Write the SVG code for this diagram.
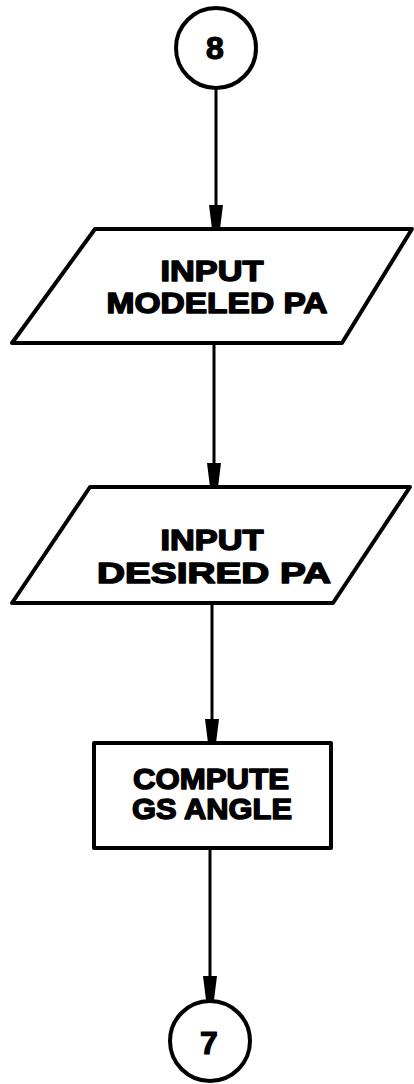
<svg xmlns="http://www.w3.org/2000/svg" width="414" height="1084" viewBox="0 0 414 1084">
<defs>
<style>
.sh{fill:#fff;stroke:#000;stroke-width:4;stroke-linejoin:round}
.ln{fill:none;stroke:#000;stroke-width:3}
.t{font-family:"Liberation Sans",Arial,sans-serif;font-weight:bold;font-size:30px;fill:#000;stroke:#000;stroke-width:1.5;stroke-linejoin:round;text-anchor:middle}
.c{font-family:"Liberation Sans",Arial,sans-serif;font-weight:bold;font-size:32px;fill:#000;stroke:#000;stroke-width:1.2;stroke-linejoin:round;text-anchor:middle}
</style>
<marker id="ah" markerUnits="userSpaceOnUse" markerWidth="26" markerHeight="16" refX="24" refY="8" orient="auto" viewBox="0 0 26 16">
<polygon points="0,1 0,15 24,12 24,4" fill="#000"/>
</marker>
</defs>
<rect width="414" height="1084" fill="#fff"/>
<g id="connectors">
<line class="ln" x1="216" y1="89" x2="216" y2="229" marker-end="url(#ah)"/>
<line class="ln" x1="214" y1="343" x2="214" y2="487" marker-end="url(#ah)"/>
<line class="ln" x1="212" y1="603" x2="212" y2="743" marker-end="url(#ah)"/>
<line class="ln" x1="210" y1="848" x2="210" y2="1000" marker-end="url(#ah)"/>
</g>
<g id="connector8">
<circle class="sh" cx="216" cy="48" r="40" stroke-width="5"/>
<text class="c" x="215" y="59">8</text>
</g>
<g id="input-modeled">
<polygon class="sh" points="95,229 412,229 342,343 12,343"/>
<text class="t" x="212" y="281" textLength="103" lengthAdjust="spacingAndGlyphs">INPUT</text>
<text class="t" x="217" y="313" textLength="221" lengthAdjust="spacingAndGlyphs">MODELED PA</text>
</g>
<g id="input-desired">
<polygon class="sh" points="90,487 410,487 333,603 12,603"/>
<text class="t" x="212" y="550" textLength="103" lengthAdjust="spacingAndGlyphs">INPUT</text>
<text class="t" x="214" y="583" textLength="234" lengthAdjust="spacingAndGlyphs">DESIRED PA</text>
</g>
<g id="compute">
<rect class="sh" x="94" y="743" width="237" height="105"/>
<text class="t" x="211" y="789" textLength="156" lengthAdjust="spacingAndGlyphs">COMPUTE</text>
<text class="t" x="212" y="819" textLength="160" lengthAdjust="spacingAndGlyphs">GS ANGLE</text>
</g>
<g id="connector7">
<circle class="sh" cx="210" cy="1041" r="40" stroke-width="5"/>
<text class="c" x="209" y="1054">7</text>
</g>
</svg>
